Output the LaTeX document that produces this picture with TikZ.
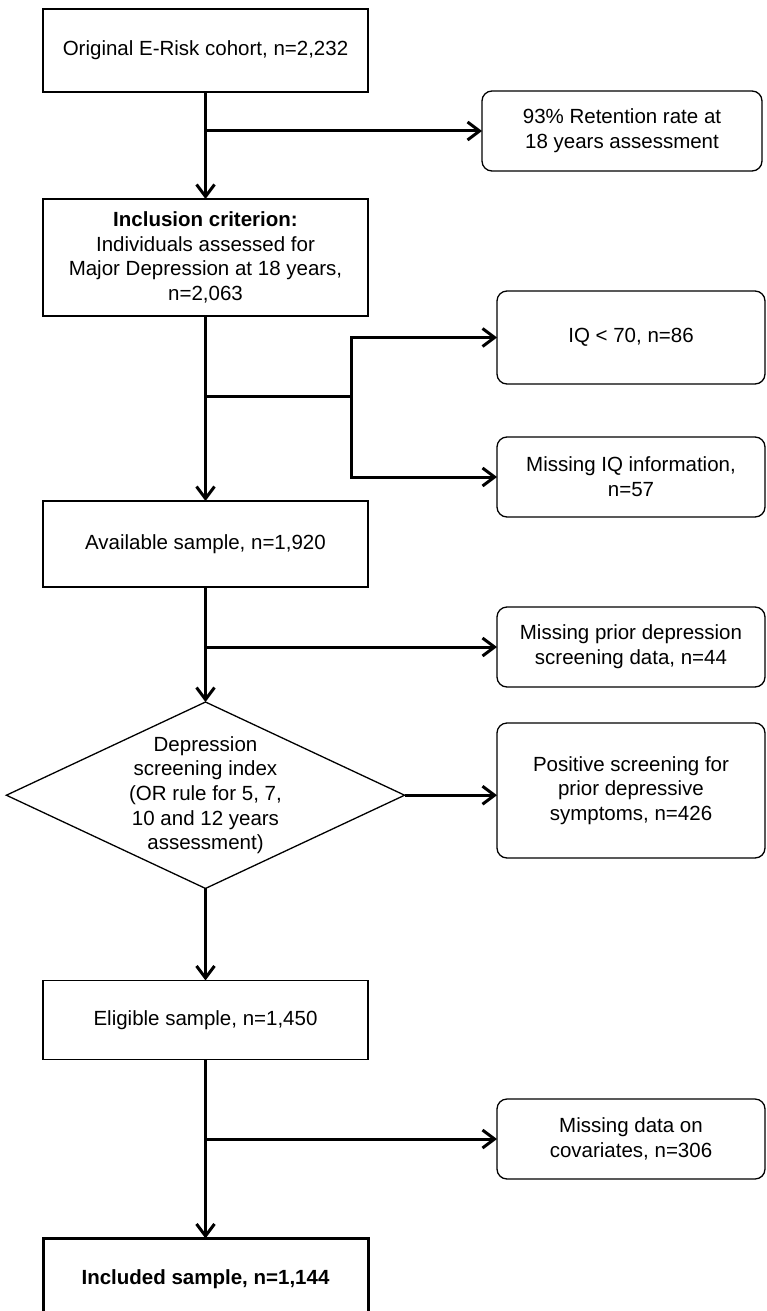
\documentclass[tikz,border=0pt]{standalone}
\usepackage{fontspec}
\setmainfont{Liberation Sans}
\usetikzlibrary{arrows.meta,positioning,shapes.geometric}

\begin{document}
\begin{tikzpicture}[
  x=1pt, y=-1pt,
  font=\fontsize{20.5}{24.7}\selectfont,
  box/.style={draw,line width=1.3pt,align=center,minimum width=325pt,inner sep=0pt,outer sep=0pt},
  side/.style={draw,line width=1.3pt,rounded corners=10pt,align=center,minimum width=268pt,minimum height=80pt,inner sep=0pt,outer sep=0pt},
  decision/.style={draw,line width=1.3pt,diamond,aspect=2.136,align=center,inner sep=-1pt,outer sep=0pt},
  flow/.style={line width=3pt,-{Straight Barb[length=12pt,width=18pt]}},
  link/.style={line width=3pt},
]
\useasboundingbox (0,0) rectangle (766,1311);
% main column
\node[box,minimum height=83pt] (orig) at (205.5,50.5) {Original E-Risk cohort, n=2,232};
\node[box,minimum height=117pt,below=107pt of orig] (incl) {\textbf{Inclusion criterion:}\\Individuals assessed for\\Major Depression at 18 years,\\n=2,063};
\node[box,minimum height=86pt,below=185pt of incl] (avail) {Available sample, n=1,920};
\node[decision,below=115pt of avail] (screen) {Depression\\screening index\\(OR rule for 5, 7,\\10 and 12 years\\assessment)};
\node[box,minimum height=79pt,below=92pt of screen] (elig) {Eligible sample, n=1,450};
\node[box,line width=3pt,minimum height=82pt,below=179pt of elig] (final) {\textbf{Included sample, n=1,144}};
% exclusions
\node[side,minimum width=280pt] (retain) at (622,131) {93\% Retention rate at\\18 years assessment};
\node[side,minimum height=93pt] (lowiq) at (631,337.5) {IQ < 70, n=86};
\node[side] (noiq) at (631,477) {Missing IQ information,\\n=57};
\node[side] (noprior) at (631,647) {Missing prior depression\\screening data, n=44};
\node[side,minimum height=135pt] (positive) at (631,790.5) {Positive screening for\\prior depressive\\symptoms, n=426};
\node[side] (nocov) at (631,1139) {Missing data on\\covariates, n=306};
% connectors
\draw[flow] (orig) -- (incl);
\draw[flow] (orig.south |- retain.west) -- (retain.west);
\draw[flow] (incl) -- (avail);
\coordinate (split) at (incl.south |- 0,396);
\coordinate (fork) at (351,396);
\draw[link] (split) -- (fork);
\draw[flow] (fork) |- (lowiq.west);
\draw[flow] (fork) |- (noiq.west);
\draw[flow] (avail) -- (screen.north);
\draw[flow] (avail.south |- noprior.west) -- (noprior.west);
\draw[flow] (screen.east) -- (positive.west |- screen.east);
\draw[flow] (screen.south) -- (elig);
\draw[flow] (elig) -- (final);
\draw[flow] (elig.south |- nocov.west) -- (nocov.west);
\end{tikzpicture}
\end{document}
